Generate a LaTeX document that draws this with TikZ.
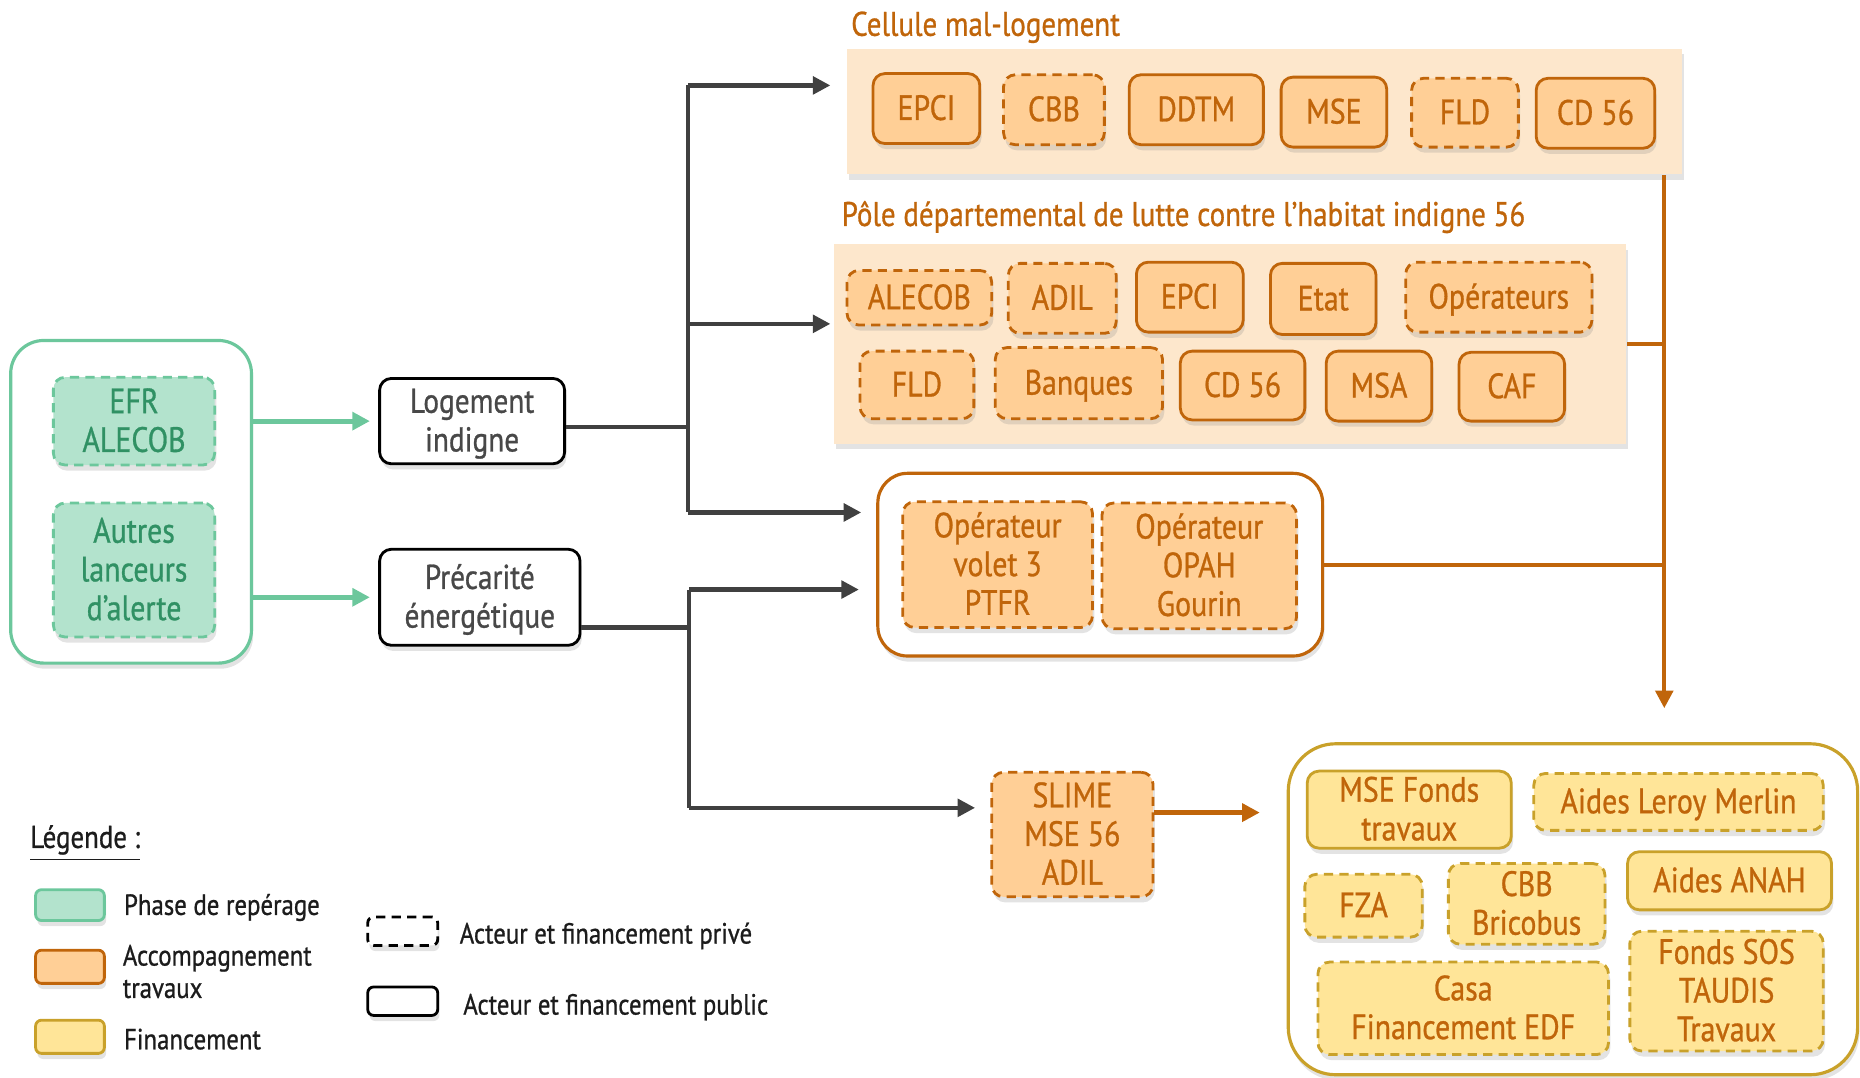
\documentclass[tikz,border=0pt]{standalone}
\usepackage{fontspec}
\setmainfont{PT Sans}[FakeStretch=0.85, FakeBold=0.8]
\usetikzlibrary{arrows.meta,shadows}

\newdimen\pxu \pxu=0.011862cm
% fixed line box so every label sits at the same height whatever its letters
\newcommand{\linebox}{\vrule width 0pt height 0.85em depth 0.2em\relax}

\definecolor{ocre}{RGB}{192,101,10}
\definecolor{peachbg}{RGB}{253,231,204}
\definecolor{peach}{RGB}{255,207,150}
\definecolor{mint}{RGB}{179,227,205}
\definecolor{mintline}{RGB}{108,199,156}
\definecolor{minttext}{RGB}{48,145,100}
\definecolor{sand}{RGB}{255,229,152}
\definecolor{sandline}{RGB}{201,161,42}
\definecolor{ink}{RGB}{64,64,64}
\definecolor{graytext}{RGB}{72,72,72}
\definecolor{legendtext}{RGB}{28,28,28}

\tikzset{
  sz/.style 2 args={minimum width=#1\pxu, minimum height=#2\pxu},
  soft/.style={drop shadow={shadow xshift=0.5pt, shadow yshift=-1.6pt, opacity=0.22}},
  base/.style={rounded corners=10\pxu, inner sep=0pt, align=center, line width=0.8pt, soft,
    font=\fontsize{10}{11}\selectfont},
  priv/.style={dashed, dash pattern=on 2.6pt off 1.8pt},
  warm/.style={base, fill=peach, draw=ocre, text=ocre},
  mintbox/.style={base, fill=mint, draw=mintline, text=minttext},
  gold/.style={base, fill=sand, draw=sandline, text=ocre},
  pub/.style={base, fill=white, draw=black, text=graytext, font=\fontsize{9.8}{11}\selectfont},
  panel/.style={fill=peachbg, inner sep=0pt, soft},
  frame/.style={fill=white, inner sep=0pt, line width=0.9pt, soft},
  heading/.style={text=ocre, anchor=west, inner sep=0pt, font=\fontsize{9.7}{11}\selectfont},
  legtext/.style={text=legendtext, anchor=west, inner sep=0pt, align=left,
    font=\fontsize{8.3}{9.2}\selectfont},
  swatch/.style={rounded corners=5\pxu, inner sep=0pt, line width=0.8pt, sz={58}{26}, soft},
  dk/.style={draw=ink, line width=1.2pt},
  orangeline/.style={draw=ocre, line width=1.1pt},
  greenline/.style={draw=mintline, line width=1.4pt},
  tip/.style={-{Triangle[length=5pt,width=5pt]}}
}

\begin{document}
\begin{tikzpicture}[x=\pxu, y=-\pxu]
\useasboundingbox (0,0) rectangle (1568,908);

% ---- Cellule mal-logement ----
\node[heading] (celltitle) at (717,23) {Cellule mal-logement};
\node[panel, sz={704}{106}] (cell) at (1066,94) {};
\node[warm, sz={90}{59}] (c1) at (781,91.5) {\linebox EPCI};
\node[warm, priv, sz={85}{59}] (c2) at (888.5,92.5) {\linebox CBB};
\node[warm, sz={113}{59}] (c3) at (1008.5,92.5) {\linebox DDTM};
\node[warm, sz={89}{59}] (c4) at (1124.5,94.5) {\linebox MSE};
\node[warm, priv, sz={90}{58}] (c5) at (1235,95) {\linebox FLD};
\node[warm, sz={100}{59}] (c6) at (1345,95.5) {\linebox CD 56};

% ---- Pôle départemental ----
\node[heading] (poletitle) at (709,183) {Pôle départemental de lutte contre l’habitat indigne 56};
\node[panel, sz={668}{168}] (pole) at (1037,290) {};
\node[warm, priv, sz={122}{46}] (p1) at (775,251) {\linebox ALECOB};
\node[warm, priv, sz={91}{59}] (p2) at (895.5,251.5) {\linebox ADIL};
\node[warm, sz={90}{59}] (p3) at (1003,250.5) {\linebox EPCI};
\node[warm, sz={89}{60}] (p4) at (1115.5,252) {\linebox Etat};
\node[warm, priv, sz={157}{59}] (p5) at (1263.5,250.5) {\linebox Opérateurs};
\node[warm, priv, sz={96}{57}] (p6) at (773,324.5) {\linebox FLD};
\node[warm, priv, sz={141}{60}] (p7) at (909.5,323) {\linebox Banques};
\node[warm, sz={105}{58}] (p8) at (1047.5,325) {\linebox CD 56};
\node[warm, sz={89}{59}] (p9) at (1162.5,325.5) {\linebox MSA};
\node[warm, sz={89}{58}] (p10) at (1274.5,326) {\linebox CAF};

% ---- Opérateurs ----
\node[frame, draw=ocre, rounded corners=25\pxu, sz={375}{154}] (ops) at (927.5,476) {};
\node[warm, priv, sz={160}{106}] (op1) at (841,476) {\linebox Opérateur\\volet 3\\PTFR\linebox};
\node[warm, priv, sz={164}{106}] (op2) at (1011,477) {\linebox Opérateur\\OPAH\\Gourin\linebox};

% ---- Repérage ----
\node[frame, draw=mintline, rounded corners=28\pxu, sz={203}{272}] (spot) at (110.5,423) {};
\node[mintbox, priv, sz={136}{74}] (efr) at (113,355) {\linebox EFR\\ALECOB\linebox};
\node[mintbox, priv, sz={136}{113}] (autres) at (113,480.5) {\linebox Autres\\lanceurs\\d’alerte\linebox};

% ---- Thématiques ----
\node[pub, sz={156}{72}] (logt) at (398,355) {\linebox Logement\\indigne\linebox};
\node[pub, sz={169}{81}] (prec) at (404.5,503.5) {\linebox Précarité\\énergétique\linebox};

% ---- SLIME ----
\node[warm, priv, sz={136}{105}] (slime) at (904,703.5) {\linebox SLIME\\MSE 56\\ADIL\linebox};

% ---- Financements ----
\node[frame, draw=sandline, rounded corners=40\pxu, sz={480}{279}] (fin) at (1326,766.5) {};
\node[gold, sz={172}{65}] (f1) at (1188,682.5) {\linebox MSE Fonds\\travaux\linebox};
\node[gold, priv, sz={244}{48}] (f2) at (1415,676) {\linebox Aides Leroy Merlin};
\node[gold, priv, sz={99}{53}] (f3) at (1149.5,763.5) {\linebox FZA};
\node[gold, priv, sz={132}{68}] (f4) at (1287,762) {\linebox CBB\\Bricobus\linebox};
\node[gold, sz={172}{49}] (f5) at (1458,742.5) {\linebox Aides ANAH};
\node[gold, priv, sz={245}{78}] (f6) at (1233.5,850) {\linebox Casa\\Financement EDF\linebox};
\node[gold, priv, sz={163}{101}] (f7) at (1455.5,835.5) {\linebox Fonds SOS\\TAUDIS\\Travaux\linebox};

% ---- Connecteurs ----
\draw[greenline, tip] (spot.east |- logt.west) -- ([xshift=-7\pxu]logt.west);
\draw[greenline, tip] (spot.east |- prec.west) -- ([xshift=-7\pxu]prec.west);

\coordinate (t1) at (580,360);
\coordinate (a1) at (700,72);
\coordinate (a2) at (700,273);
\coordinate (a3) at (726,432);
\draw[dk] (logt.east |- t1) -- (t1);
\draw[dk] (a1 -| t1) -- (a3 -| t1);
\draw[dk, tip] (a1 -| t1) -- (a1);
\draw[dk, tip] (a2 -| t1) -- (a2);
\draw[dk, tip] (a3 -| t1) -- (a3);

\coordinate (t2) at (581,529);
\coordinate (a4) at (724,497);
\coordinate (a5) at (822,681);
\draw[dk] (prec.east |- t2) -- (t2);
\draw[dk] (a4 -| t2) -- (a5 -| t2);
\draw[dk, tip] (a4 -| t2) -- (a4);
\draw[dk, tip] (a5 -| t2) -- (a5);

\coordinate (a6) at (1062,685);
\draw[orangeline, line width=1.3pt, tip] (slime.east |- a6) -- (a6);

\coordinate (vend) at (1403,597);
\draw[orangeline, tip] (cell.south -| vend) -- (vend);
\draw[orangeline] (pole.east) -- (pole.east -| vend);
\draw[orangeline] (ops.east) -- (ops.east -| vend);

% ---- Légende ----
\node[legtext, font=\fontsize{9}{10}\selectfont] (legtitle) at (25,711) {\underline{Légende :}};
\node[swatch, fill=mint, draw=mintline] (s1) at (59,763) {};
\node[legtext] (l1) at (104,765) {Phase de repérage};
\node[swatch, fill=peach, draw=ocre, sz={58}{28}] (s2) at (59,815) {};
\node[legtext] (l2) at (103,819) {Accompagnement\\travaux};
\node[swatch, fill=sand, draw=sandline, sz={58}{28}] (s3) at (59,874) {};
\node[legtext] (l3) at (104,876) {Financement};
\node[swatch, fill=white, draw=black, priv, sz={59}{24}] (s4) at (339.5,785) {};
\node[legtext] (l4) at (387,789) {Acteur et financement privé};
\node[swatch, fill=white, draw=black, sz={59}{24}] (s5) at (339.5,844) {};
\node[legtext] (l5) at (390,849) {Acteur et financement public};
\end{tikzpicture}
\end{document}
